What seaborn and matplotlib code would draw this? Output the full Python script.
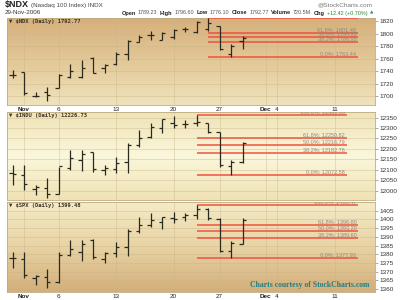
import numpy as np
import pandas as pd
import matplotlib
matplotlib.use("Agg")
import matplotlib.pyplot as plt
import seaborn as sns
from matplotlib.colors import LinearSegmentedColormap

sns.set_style("white")
plt.rcParams['font.family'] = ['Liberation Sans', 'DejaVu Sans']

# ---------------- data ----------------
dates = ["2006-10-31", "2006-11-01", "2006-11-02", "2006-11-03", "2006-11-06",
         "2006-11-07", "2006-11-08", "2006-11-09", "2006-11-10", "2006-11-13",
         "2006-11-14", "2006-11-15", "2006-11-16", "2006-11-17", "2006-11-20",
         "2006-11-21", "2006-11-22", "2006-11-24", "2006-11-27", "2006-11-28",
         "2006-11-29"]
holidays = ["2006-11-23"]

ndx_open = [1734.4, 1739.0, 1700.5, 1707.0, 1713.5, 1731.6, 1731.6, 1762.0, 1744.5, 1752.0,
            1768.0, 1787.3, 1797.6, 1789.4, 1795.0, 1808.0, 1803.0, 1808.0, 1812.0, 1768.0, 1789.23]
ndx_high = [1741.7, 1739.5, 1707.0, 1715.0, 1735.0, 1752.4, 1757.6, 1763.0, 1752.4, 1771.0,
            1789.4, 1797.3, 1805.0, 1802.5, 1808.0, 1810.5, 1821.0, 1825.0, 1813.0, 1784.0, 1796.60]
ndx_low = [1728.6, 1702.0, 1699.0, 1692.5, 1712.7, 1728.6, 1728.6, 1736.5, 1736.5, 1749.7,
           1757.6, 1786.7, 1789.4, 1789.4, 1792.0, 1802.5, 1801.0, 1805.0, 1774.6, 1763.44, 1776.10]
ndx_close = [1734.4, 1705.0, 1700.5, 1702.0, 1733.6, 1740.0, 1746.0, 1738.0, 1750.0, 1768.0,
             1787.8, 1795.0, 1797.6, 1800.8, 1806.0, 1808.0, 1819.0, 1818.0, 1776.0, 1780.35, 1792.77]

indu_open = [12086, 12075, 12010, 12013, 11986, 12107, 12147, 12183, 12100, 12103,
             12139, 12217, 12255, 12300, 12325, 12320, 12322, 12323, 12280, 12120, 12137]
indu_high = [12123, 12123, 12027, 12061, 12115, 12195, 12195, 12187, 12123, 12163,
             12227, 12291, 12326, 12342, 12358, 12339, 12361, 12323, 12283, 12147, 12235]
indu_low = [12027, 12003, 11980, 11965, 11984, 12099, 12096, 12091, 12075, 12083,
            12083, 12211, 12251, 12275, 12299, 12299, 12310, 12275, 12115, 12072.58, 12131]
indu_close = [12080.73, 12031.02, 12018.54, 11986.04, 12118.59, 12156.77, 12176.54, 12103.30,
              12108.43, 12131.88, 12218.01, 12251.71, 12305.82, 12342.56, 12316.54, 12321.59,
              12326.95, 12280.17, 12121.71, 12136.44, 12226.73]

spx_open = [1378.0, 1377.4, 1366.3, 1367.0, 1364.0, 1379.4, 1381.5, 1388.0, 1377.5, 1380.5,
            1384.4, 1393.3, 1397.0, 1398.3, 1400.9, 1401.4, 1402.7, 1405.7, 1400.5, 1381.6, 1386.1]
spx_high = [1381.4, 1381.4, 1368.0, 1371.3, 1381.4, 1388.2, 1388.2, 1388.6, 1381.4, 1387.2,
            1394.3, 1401.2, 1403.9, 1401.2, 1404.4, 1403.5, 1408.47, 1406.4, 1400.6, 1387.8, 1400.6]
spx_low = [1371.9, 1366.1, 1362.3, 1360.4, 1363.6, 1379.0, 1376.3, 1377.1, 1375.1, 1378.6,
           1379.0, 1392.0, 1395.8, 1394.3, 1397.7, 1399.0, 1400.0, 1399.7, 1381.4, 1377.93, 1385.9]
spx_close = [1377.94, 1367.81, 1367.34, 1364.30, 1379.78, 1382.84, 1385.72, 1378.33, 1380.90,
             1384.42, 1393.22, 1396.57, 1399.76, 1401.20, 1400.50, 1402.81, 1406.09, 1400.95,
             1381.96, 1386.72, 1399.48]

fib_levels = [1.0, 0.618, 0.5, 0.382, 0.0]
ndx_fib = (1824.99, 1763.44)
indu_fib = (12361.00, 12072.58)
spx_fib = (1408.47, 1377.93)

ndx_yticks = [1700, 1720, 1740, 1760, 1780, 1800, 1820]
indu_yticks = [12000, 12050, 12100, 12150, 12200, 12250, 12300, 12350]
spx_yticks = [1360, 1365, 1370, 1375, 1380, 1385, 1390, 1395, 1400, 1405]

xtick_dates = ["2006-11-01", "2006-11-06", "2006-11-13", "2006-11-20", "2006-11-27",
               "2006-12-01", "2006-12-04", "2006-12-11"]
xtick_labels = ["Nov", "6", "13", "20", "27", "Dec", "4", "11"]

# trading-day axis
cal = pd.bdate_range("2006-10-31", "2006-12-20", freq="C", holidays=holidays)
pos = {d: i for i, d in enumerate(cal)}
x = np.array([pos[pd.Timestamp(d)] for d in dates], dtype=float)
xt = [pos[pd.Timestamp(d)] for d in xtick_dates]

# ---------------- figure ----------------
W, H = 400, 300
fig = plt.figure(figsize=(4, 3), dpi=100)
fig.patch.set_facecolor("white")


def px_axes(x0, y0, x1, y1):
    return fig.add_axes([x0 / W, 1 - y1 / H, (x1 - x0) / W, (y1 - y0) / H])


def bg(ax, colors):
    cmap = LinearSegmentedColormap.from_list("g", colors)
    grad = np.linspace(0, 1, 256).reshape(-1, 1)
    ax.imshow(grad, cmap=cmap, extent=[0, 1, 0, 1], transform=ax.transAxes,
              aspect="auto", zorder=0, origin="upper", interpolation="bilinear")


barc = "#2b2a1e"
redc = "#f0523e"
gridc = "#c7b489"


def panel(ax, o, h, l, c, ylim, yticks, colors, label, fib, fib_x0, fib_x1, show_x):
    bg(ax, colors)
    ax.vlines(x, l, h, color=barc, lw=0.9, zorder=4)
    ax.hlines(o, x - 0.3, x, color=barc, lw=0.9, zorder=4)
    ax.hlines(c, x, x + 0.3, color=barc, lw=0.9, zorder=4)
    hi, lo = fib
    span = ylim[1] - ylim[0]
    for f in fib_levels:
        v = lo + f * (hi - lo)
        ax.hlines(v, fib_x0, fib_x1, color=redc, lw=1.1, zorder=3)
        if v < ylim[1] - 0.01 * span:  # label hidden when the level sits on the top edge
            ax.text(fib_x1 - 0.15, v, f"{f*100:.1f}%: {v:.2f}", ha="right", va="bottom",
                    fontsize=4.0, color="#8a8a80", zorder=5, clip_on=True)
    ax.set_xlim(-0.48, 31.52)
    ax.set_ylim(*ylim)
    ax.set_xticks(xt)
    ax.set_yticks(yticks)
    ax.yaxis.tick_right()
    ax.tick_params(axis="y", right=True, length=2, width=0.5, color="#888888",
                   labelsize=4.6, pad=1.5, labelcolor="#333333")
    ax.tick_params(axis="x", length=0, pad=1.2, labelsize=4.6, labelcolor="#222222")
    if show_x:
        ax.set_xticklabels(xtick_labels)
        for t in ax.get_xticklabels():
            if t.get_text() in ("Nov", "Dec"):
                t.set_fontweight("bold")
    else:
        ax.set_xticklabels([])
    ax.grid(True, color=gridc, lw=0.5, alpha=0.55, zorder=1)
    ax.set_axisbelow(True)
    for s in ax.spines.values():
        s.set_color("#c0aa80")
        s.set_linewidth(0.6)
    ax.text(0.006, 0.985, label, transform=ax.transAxes, ha="left", va="top",
            fontsize=4.0, family="DejaVu Sans Mono", fontweight="bold", color="#3a3428", zorder=6)


ax1 = px_axes(7, 18, 375, 105)
panel(ax1, ndx_open, ndx_high, ndx_low, ndx_close, (1686.0, 1825.3), ndx_yticks,
      ["#d6b07c", "#e3c898", "#f0e3bc"], "\u25bc $NDX (Daily) 1792.77",
      ndx_fib, 17, 30.05, True)

ax2 = px_axes(7, 112, 375, 200)
panel(ax2, indu_open, indu_high, indu_low, indu_close, (11955.0, 12377.0), indu_yticks,
      ["#efe3b6", "#fbf7dc", "#efe2b4"], "\u25bc $INDU (Daily) 12226.73",
      indu_fib, 16, 29.05, False)

ax3 = px_axes(7, 202, 375, 292)
panel(ax3, spx_open, spx_high, spx_low, spx_close, (1358.3, 1410.0), spx_yticks,
      ["#f4ebc6", "#e8d3a4", "#d3ae7a"], "\u25bc $SPX (Daily) 1399.48",
      spx_fib, 16, 30.05, True)

# ---------------- header ----------------
fig.canvas.draw()
r = fig.canvas.get_renderer()


def seq_text(x0, y0, parts, gap=1.5, align="left"):
    texts, widths = [], []
    for s, kw in parts:
        t = fig.text(0, 1 - y0 / H, s, ha="left", va="center", **kw)
        widths.append(t.get_window_extent(renderer=r).width)
        texts.append(t)
    total = sum(widths) + gap * (len(parts) - 1)
    xx = x0 if align == "left" else x0 - total
    for t, w in zip(texts, widths):
        t.set_x(xx / W)
        xx += w + gap


seq_text(5, 5, [("$NDX", dict(fontsize=6.5, fontweight="bold", color="#222222")),
                ("(Nasdaq 100 Index) INDX", dict(fontsize=4.5, color="#444444"))], gap=2)
fig.text(373 / W, 1 - 5 / H, "@StockCharts.com", ha="right", va="center",
         fontsize=4.6, color="#777777")
fig.text(5 / W, 1 - 13 / H, "29-Nov-2006", ha="left", va="center", fontsize=4.5, color="#333333")

lab = dict(fontsize=4.1, fontweight="bold", color="#222222")
num = dict(fontsize=3.9, color="#555555")
grn = dict(fontsize=3.9, color="#2a8a3a")
seq_text(373, 13, [("Open", lab), ("1789.23", num), ("High", lab), ("1796.60", num),
                   ("Low", lab), ("1776.10", num), ("Close", lab), ("1792.77", num),
                   ("Volume", lab), ("720.5M", num), ("Chg", lab),
                   ("+12.42 (+0.70%)", grn), ("\u25b2", dict(fontsize=3.2, color="#2a8a3a",
                                                               family="DejaVu Sans"))],
         gap=2.2, align="right")

fig.text(310 / W, 1 - 285 / H, "Charts courtesy of StockCharts.com", ha="center", va="center",
         fontsize=5.6, fontweight="bold", color="#1f7f86", family="Liberation Serif")

fig.savefig("out.png", dpi=100, facecolor="white")
